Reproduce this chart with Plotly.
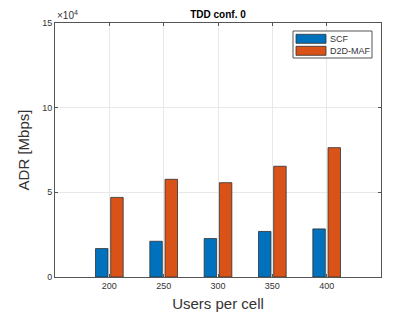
import plotly.graph_objects as go

users = [200, 250, 300, 350, 400]
scf = [16800, 21100, 22700, 26900, 28400]
d2d_maf = [47000, 57700, 55700, 65400, 76400]
y_ticks = [0, 50000, 100000, 150000]
y_tick_labels = ["0", "5", "10", "15"]
series_names = ["SCF", "D2D-MAF"]
series_colors = ["#0072BD", "#D95319"]

font = "Liberation Sans, Arial, sans-serif"
# page has an 8px body margin; figure occupies page x 8..420, y 8..315
OFF = 8
W, H = 420 - OFF, 315 - OFF
L, R, T, B = 55 - OFF, 39, 23 - OFF, 38
PW, PH = W - L - R, H - T - B

def px_x(page_x):
    return (page_x - OFF - L) / PW

def px_y(page_y):
    return (H - B - (page_y - OFF)) / PH

fig = go.Figure()
for name, vals, col in zip(series_names, [scf, d2d_maf], series_colors):
    fig.add_trace(go.Bar(x=users, y=vals, name=name, showlegend=False,
                         marker=dict(color=col, line=dict(color="#303030", width=0.8))))

axis_common = dict(showline=True, linecolor="#555555", linewidth=1, mirror="ticks",
                   ticks="inside", ticklen=3, tickcolor="#555555", automargin=False,
                   showgrid=True, gridcolor="#E8E8E8", gridwidth=1, zeroline=False,
                   tickfont=dict(family=font, size=9, color="#333333"))

fig.update_layout(
    width=W, height=H,
    paper_bgcolor="white", plot_bgcolor="white",
    margin=dict(l=L, r=R, t=T, b=B),
    barmode="group", bargap=0.44, bargroupgap=0.18,
    title=dict(text="<b>TDD conf. 0</b>", x=px_x(218), xanchor="center", xref="paper", y=1-(14-OFF)/H, yanchor="middle",
               font=dict(family=font, size=10, color="black")),
    xaxis=dict(range=[150, 450], tickvals=users, ticktext=[str(u) for u in users],
               title=dict(text="Users per cell", font=dict(family=font, size=15, color="#333333"), standoff=8),
               **axis_common),
    yaxis=dict(range=[0, 150000], tickvals=y_ticks, ticktext=y_tick_labels,
               title=dict(text="ADR [Mbps]", font=dict(family=font, size=15, color="#333333"), standoff=8),
               **axis_common),
    showlegend=False,
)
fig.add_annotation(text="×10<sup>4</sup>", xref="paper", yref="paper", x=0.0, y=1.0, xanchor="left", yanchor="bottom",
                   showarrow=False, font=dict(family=font, size=10, color="#333333"))

# legend box (drawn manually, MATLAB-style)
fig.add_shape(type="rect", xref="paper", yref="paper",
              x0=px_x(293), x1=px_x(372), y0=px_y(58), y1=px_y(31),
              line=dict(color="#555555", width=1), fillcolor="white")
for i, (name, col) in enumerate(zip(series_names, series_colors)):
    top = 34.3 + i * 12
    fig.add_shape(type="rect", xref="paper", yref="paper",
                  x0=px_x(296), x1=px_x(326), y0=px_y(top + 9), y1=px_y(top),
                  line=dict(color="#303030", width=0.8), fillcolor=col)
    fig.add_annotation(text=name, xref="paper", yref="paper", x=px_x(328), y=px_y(top + 4.5),
                       xanchor="left", yanchor="middle", showarrow=False,
                       font=dict(family=font, size=9, color="#333333"))

fig.write_html("out.html")
